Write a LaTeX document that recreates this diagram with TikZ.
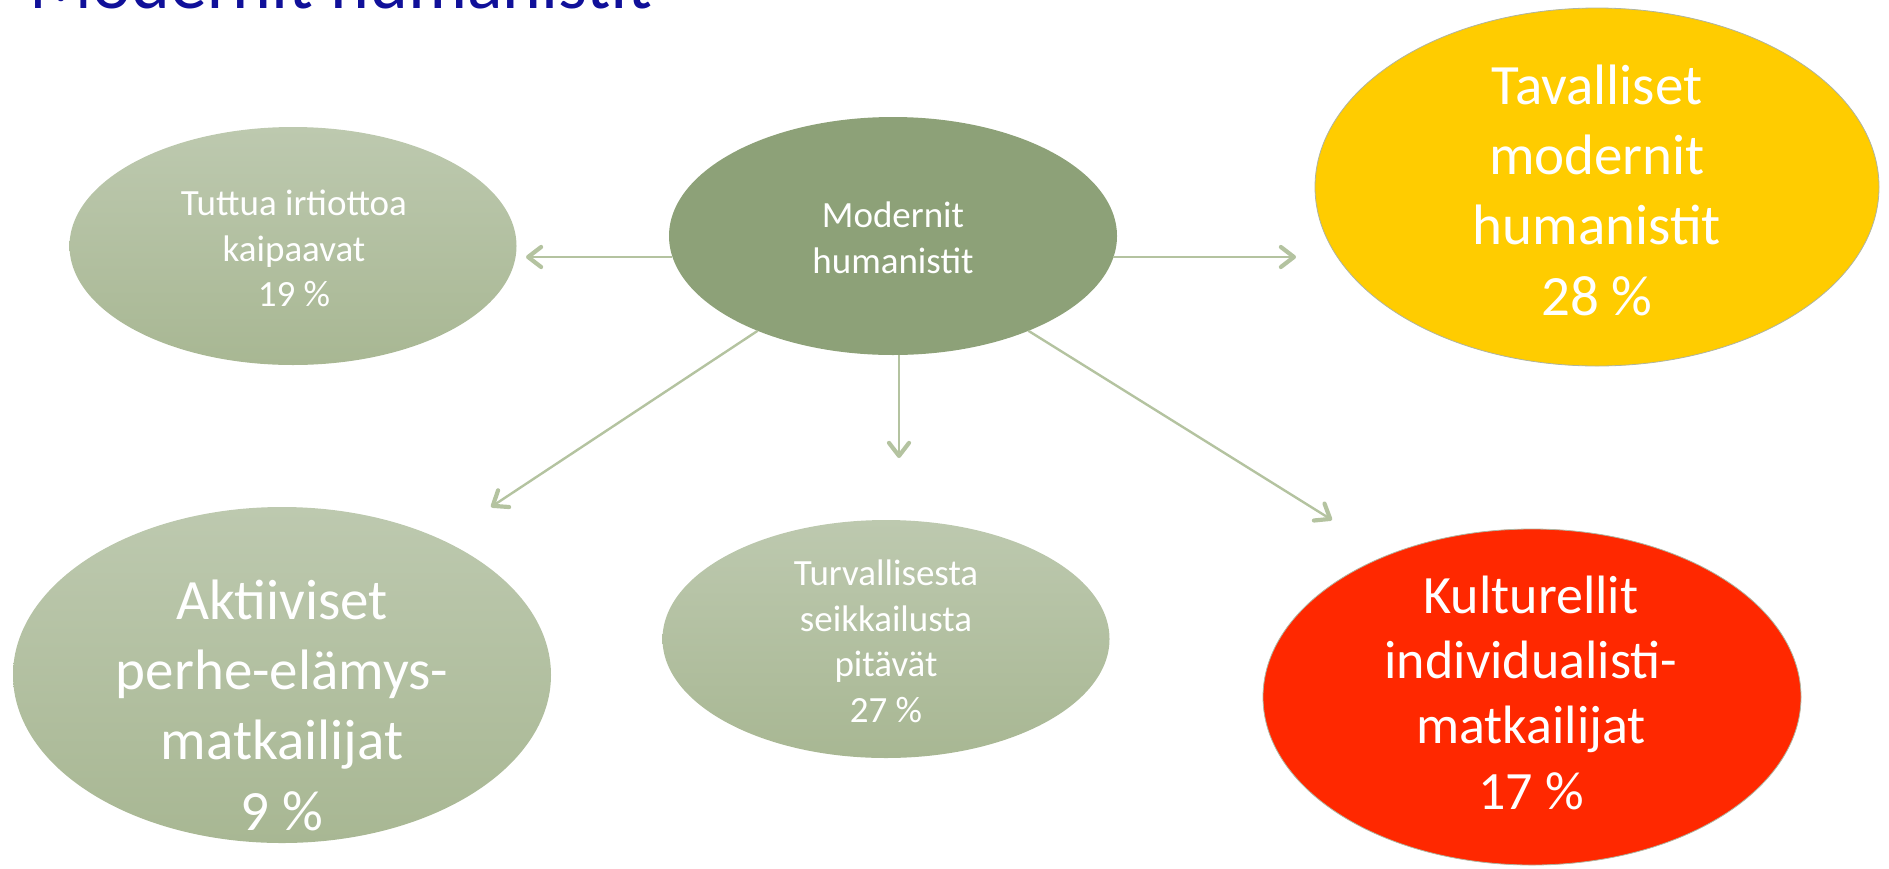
\documentclass[tikz,border=0pt]{standalone}
\usepackage{fontspec}
\setmainfont{Carlito}
\usetikzlibrary{shapes.geometric,arrows.meta}
\definecolor{titleblue}{RGB}{16,16,153}
\definecolor{paleTop}{RGB}{189,201,175}
\definecolor{paleBot}{RGB}{168,183,147}
\definecolor{midgreen}{RGB}{141,161,120}
\definecolor{gold}{RGB}{255,204,0}
\definecolor{redorange}{RGB}{255,40,0}
\definecolor{edgegray}{RGB}{175,180,160}
\definecolor{arrowgreen}{RGB}{180,195,160}
\tikzset{
  blob/.style={ellipse, inner sep=0pt, outer sep=0pt},
  pale/.style={blob, top color=paleTop, bottom color=paleBot, draw=none},
  lbl/.style={text=white, align=center, inner sep=0pt, anchor=base},
  smalltxt/.style={lbl, font=\fontsize{37}{45.5}\selectfont},
  bigtxt/.style={lbl, font=\fontsize{57}{70.3}\selectfont},
  conn/.style={draw=arrowgreen, line width=2.4pt,
    -{Straight Barb[length=13pt,width=20pt,line width=4.2pt,round]}}
}
\begin{document}
\begin{tikzpicture}[x=1pt,y=-1pt]
\useasboundingbox (0,0) rectangle (1889,868);
\clip (0,0) rectangle (1889,868);
% title (mostly cut off at the top)
\node[anchor=base west, inner sep=0pt, text=titleblue,
      font=\fontsize{74}{80}\selectfont] (title) at (29,8) {Modernit humanistit};
% ellipses
\node[pale, minimum width=447pt, minimum height=238pt] (tut) at (293,246) {};
\node[blob, fill=midgreen, minimum width=448pt, minimum height=238pt] (mod) at (893,236) {};
\node[blob, fill=gold, draw=edgegray, line width=0.8pt, minimum width=564pt, minimum height=358pt] (tav) at (1597,187) {};
\node[pale, minimum width=538pt, minimum height=336pt] (akt) at (282,675) {};
\node[pale, minimum width=447pt, minimum height=238pt] (tur) at (886,639) {};
\node[blob, fill=redorange, draw=edgegray, line width=0.8pt, minimum width=538pt, minimum height=336pt] (kul) at (1532,697) {};
% labels (base anchor = baseline of the last line)
\node[smalltxt] (tutL) at (294,306.7) {Tuttua irtiottoa\\kaipaavat\\19 \%};
\node[smalltxt] (modL) at (893,273.3) {Modernit\\humanistit};
\node[bigtxt] (tavL) at (1597,315) {Tavalliset\\modernit\\humanistit\\28 \%};
\node[bigtxt] (aktL) at (282,830) {Aktiiviset\\perhe-elämys-\\matkailijat\\9 \%};
\node[smalltxt] (turL) at (886,722) {Turvallisesta\\seikkailusta\\pitävät\\27 \%};
\node[lbl, font=\fontsize{54}{65.3}\selectfont] (kulL) at (1531,809) {Kulturellit\\individualisti-\\matkailijat\\17 \%};
% arrow tips
\coordinate (tT) at (526,257);
\coordinate (tV) at (1296,257);
\coordinate (tA) at (491,507);
\coordinate (tU) at (899,458);
\coordinate (tK) at (1332,520);
% connectors
\draw[conn] (mod.185.4 |- tT) -- (tT);
\draw[conn] (mod.354.6 |- tV) -- (tV);
\draw[conn] (mod.215.2) -- (tA);
\draw[conn] (mod.south -| tU) -- (tU);
\draw[conn] (mod.325.9) -- (tK);
\end{tikzpicture}
\end{document}
